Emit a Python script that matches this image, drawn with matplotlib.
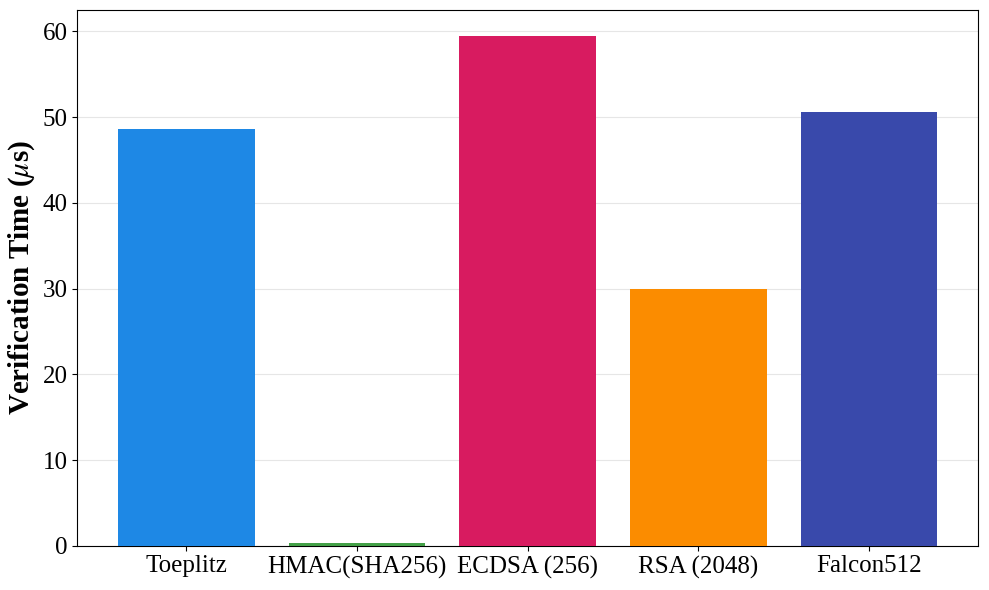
import numpy as np
import matplotlib.pyplot as plt

plt.rcParams['font.family'] = ['Liberation Serif', 'DejaVu Serif']
plt.rcParams['mathtext.fontset'] = 'stix'

schemes = ['Toeplitz', 'HMAC(SHA256)', 'ECDSA (256)', 'RSA (2048)', 'Falcon512']
verify_us = [48.6, 0.35, 59.5, 29.9, 50.6]
colors = ['#1E88E5', '#43A047', '#D81B60', '#FB8C00', '#3949AB']

fig, ax = plt.subplots(figsize=(9.89, 5.9), dpi=100)
x = np.arange(len(schemes))
ax.bar(x, verify_us, color=colors, width=0.8, zorder=3)
ax.set_xticks(x)
ax.set_xticklabels(schemes, fontsize=18)
ax.tick_params(axis='y', labelsize=18)
ax.set_ylabel(r'Verification Time ($\mu$s)', fontsize=21, fontweight='bold', labelpad=4)
ax.grid(axis='y', color='#e6e6e6', linewidth=0.8, zorder=0)
ax.set_axisbelow(True)

fig.subplots_adjust(left=0.078, right=0.989, top=0.983, bottom=0.075)
plt.savefig('out.png')
